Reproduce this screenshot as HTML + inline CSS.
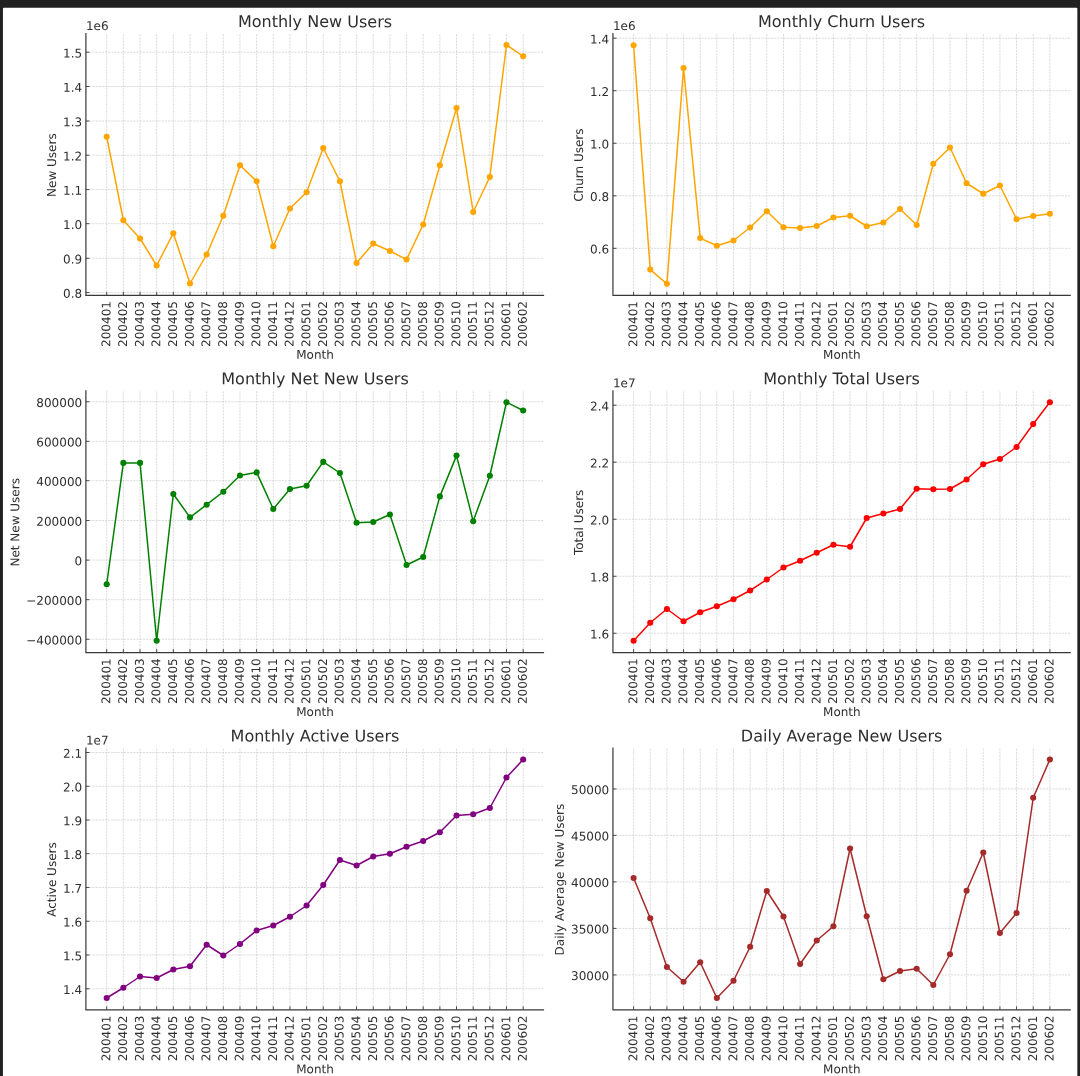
<!DOCTYPE html>
<html lang="en">
<head>
<meta charset="utf-8">
<title>Monthly User Metrics</title>
<style>
html,body{margin:0;padding:0;background:#212121;}
body{width:1080px;height:1076px;overflow:hidden;position:relative;}
svg{position:absolute;left:0;top:0;display:block;}
text{font-family:"DejaVu Sans", "Liberation Sans", sans-serif;fill:#2e2e2e;}
.t{font-size:12.0px;}
.t text{font-size:12.0px;}
.ttl{font-size:16.05px;}
.grid{fill:none;stroke:#c4c4c4;stroke-width:0.6;stroke-dasharray:2.2 0.96;}
.tick{fill:none;stroke:#4a4a4a;stroke-width:1;}
.spine{fill:none;stroke:#383838;stroke-width:1.2;stroke-linecap:butt;stroke-linejoin:miter;}
.ln{fill:none;stroke-width:1.5;stroke-linejoin:round;stroke-linecap:butt;}
</style>
</head>
<body>
<svg role="img" aria-label="Six monthly user metric line charts" width="1080" height="1076" viewBox="0 0 1080 1076">
<rect x="2.95" y="7.7" width="1074.4" height="1080" rx="1" fill="#ffffff"/>
<g id="charts">
<g>
<path class="grid" d="M106.7 295.4V33.1M123.36 295.4V33.1M140.02 295.4V33.1M156.67 295.4V33.1M173.33 295.4V33.1M189.99 295.4V33.1M206.65 295.4V33.1M223.31 295.4V33.1M239.96 295.4V33.1M256.62 295.4V33.1M273.28 295.4V33.1M289.94 295.4V33.1M306.6 295.4V33.1M323.25 295.4V33.1M339.91 295.4V33.1M356.57 295.4V33.1M373.23 295.4V33.1M389.89 295.4V33.1M406.54 295.4V33.1M423.2 295.4V33.1M439.86 295.4V33.1M456.52 295.4V33.1M473.18 295.4V33.1M489.83 295.4V33.1M506.49 295.4V33.1M523.15 295.4V33.1M85.9 292.6H543.8M85.9 258.25H543.8M85.9 223.7H543.8M85.9 189.55H543.8M85.9 155.2H543.8M85.9 121H543.8M85.9 86.5H543.8M85.9 52.2H543.8"/>
<path class="tick" d="M106.7 295.4v-3.5M123.36 295.4v-3.5M140.02 295.4v-3.5M156.67 295.4v-3.5M173.33 295.4v-3.5M189.99 295.4v-3.5M206.65 295.4v-3.5M223.31 295.4v-3.5M239.96 295.4v-3.5M256.62 295.4v-3.5M273.28 295.4v-3.5M289.94 295.4v-3.5M306.6 295.4v-3.5M323.25 295.4v-3.5M339.91 295.4v-3.5M356.57 295.4v-3.5M373.23 295.4v-3.5M389.89 295.4v-3.5M406.54 295.4v-3.5M423.2 295.4v-3.5M439.86 295.4v-3.5M456.52 295.4v-3.5M473.18 295.4v-3.5M489.83 295.4v-3.5M506.49 295.4v-3.5M523.15 295.4v-3.5M85.9 292.6h3.5M85.9 258.25h3.5M85.9 223.7h3.5M85.9 189.55h3.5M85.9 155.2h3.5M85.9 121h3.5M85.9 86.5h3.5M85.9 52.2h3.5"/>
<polyline class="ln" stroke="#ffa500" points="106.7,136.75 123.36,220.25 140.02,238.5 156.67,265.5 173.33,233.25 189.99,283.5 206.65,254.5 223.31,215.75 239.96,165.25 256.62,181.25 273.28,246.25 289.94,208.5 306.6,192.25 323.25,148 339.91,181.25 356.57,263 373.23,243.5 389.89,251 406.54,259.5 423.2,224.5 439.86,165.25 456.52,108 473.18,212 489.83,177 506.49,45 523.15,56.25"/>
<g fill="#ffa500"><circle cx="106.7" cy="136.75" r="3.05"/><circle cx="123.36" cy="220.25" r="3.05"/><circle cx="140.02" cy="238.5" r="3.05"/><circle cx="156.67" cy="265.5" r="3.05"/><circle cx="173.33" cy="233.25" r="3.05"/><circle cx="189.99" cy="283.5" r="3.05"/><circle cx="206.65" cy="254.5" r="3.05"/><circle cx="223.31" cy="215.75" r="3.05"/><circle cx="239.96" cy="165.25" r="3.05"/><circle cx="256.62" cy="181.25" r="3.05"/><circle cx="273.28" cy="246.25" r="3.05"/><circle cx="289.94" cy="208.5" r="3.05"/><circle cx="306.6" cy="192.25" r="3.05"/><circle cx="323.25" cy="148" r="3.05"/><circle cx="339.91" cy="181.25" r="3.05"/><circle cx="356.57" cy="263" r="3.05"/><circle cx="373.23" cy="243.5" r="3.05"/><circle cx="389.89" cy="251" r="3.05"/><circle cx="406.54" cy="259.5" r="3.05"/><circle cx="423.2" cy="224.5" r="3.05"/><circle cx="439.86" cy="165.25" r="3.05"/><circle cx="456.52" cy="108" r="3.05"/><circle cx="473.18" cy="212" r="3.05"/><circle cx="489.83" cy="177" r="3.05"/><circle cx="506.49" cy="45" r="3.05"/><circle cx="523.15" cy="56.25" r="3.05"/></g>
<path class="spine" d="M85.9 33.1V295.4H544.1"/>
<g class="t" text-anchor="end"><text transform="translate(82.15 297.8) rotate(0.05)">0.8</text><text transform="translate(82.15 263.45) rotate(0.05)">0.9</text><text transform="translate(82.15 228.9) rotate(0.05)">1.0</text><text transform="translate(82.15 194.75) rotate(0.05)">1.1</text><text transform="translate(82.15 160.4) rotate(0.05)">1.2</text><text transform="translate(82.15 126.2) rotate(0.05)">1.3</text><text transform="translate(82.15 91.7) rotate(0.05)">1.4</text><text transform="translate(82.15 57.4) rotate(0.05)">1.5</text></g>
<g class="t" text-anchor="end"><text transform="translate(110.4 301.1) rotate(-89.95)">200401</text><text transform="translate(127.06 301.1) rotate(-89.95)">200402</text><text transform="translate(143.72 301.1) rotate(-89.95)">200403</text><text transform="translate(160.37 301.1) rotate(-89.95)">200404</text><text transform="translate(177.03 301.1) rotate(-89.95)">200405</text><text transform="translate(193.69 301.1) rotate(-89.95)">200406</text><text transform="translate(210.35 301.1) rotate(-89.95)">200407</text><text transform="translate(227.01 301.1) rotate(-89.95)">200408</text><text transform="translate(243.66 301.1) rotate(-89.95)">200409</text><text transform="translate(260.32 301.1) rotate(-89.95)">200410</text><text transform="translate(276.98 301.1) rotate(-89.95)">200411</text><text transform="translate(293.64 301.1) rotate(-89.95)">200412</text><text transform="translate(310.3 301.1) rotate(-89.95)">200501</text><text transform="translate(326.95 301.1) rotate(-89.95)">200502</text><text transform="translate(343.61 301.1) rotate(-89.95)">200503</text><text transform="translate(360.27 301.1) rotate(-89.95)">200504</text><text transform="translate(376.93 301.1) rotate(-89.95)">200505</text><text transform="translate(393.59 301.1) rotate(-89.95)">200506</text><text transform="translate(410.24 301.1) rotate(-89.95)">200507</text><text transform="translate(426.9 301.1) rotate(-89.95)">200508</text><text transform="translate(443.56 301.1) rotate(-89.95)">200509</text><text transform="translate(460.22 301.1) rotate(-89.95)">200510</text><text transform="translate(476.88 301.1) rotate(-89.95)">200511</text><text transform="translate(493.53 301.1) rotate(-89.95)">200512</text><text transform="translate(510.19 301.1) rotate(-89.95)">200601</text><text transform="translate(526.85 301.1) rotate(-89.95)">200602</text></g>
<text class="ttl" text-anchor="middle" transform="translate(315 27.1) rotate(0.05)">Monthly New Users</text>
<text class="t" text-anchor="middle" transform="translate(315 358.75) rotate(0.05)">Month</text>
<text class="t" text-anchor="middle" transform="translate(55.9 165.15) rotate(-89.95)">New Users</text>
<text class="t" transform="translate(85.9 30) rotate(0.05)">1e6</text>
</g>
<g>
<path class="grid" d="M633.6 295.4V33.1M650.25 295.4V33.1M666.9 295.4V33.1M683.55 295.4V33.1M700.2 295.4V33.1M716.86 295.4V33.1M733.51 295.4V33.1M750.16 295.4V33.1M766.81 295.4V33.1M783.46 295.4V33.1M800.11 295.4V33.1M816.76 295.4V33.1M833.41 295.4V33.1M850.06 295.4V33.1M866.71 295.4V33.1M883.37 295.4V33.1M900.02 295.4V33.1M916.67 295.4V33.1M933.32 295.4V33.1M949.97 295.4V33.1M966.62 295.4V33.1M983.27 295.4V33.1M999.92 295.4V33.1M1016.57 295.4V33.1M1033.22 295.4V33.1M1049.88 295.4V33.1M612.95 248.3H1070.5M612.95 195.8H1070.5M612.95 143.25H1070.5M612.95 90.7H1070.5M612.95 38.2H1070.5"/>
<path class="tick" d="M633.6 295.4v-3.5M650.25 295.4v-3.5M666.9 295.4v-3.5M683.55 295.4v-3.5M700.2 295.4v-3.5M716.86 295.4v-3.5M733.51 295.4v-3.5M750.16 295.4v-3.5M766.81 295.4v-3.5M783.46 295.4v-3.5M800.11 295.4v-3.5M816.76 295.4v-3.5M833.41 295.4v-3.5M850.06 295.4v-3.5M866.71 295.4v-3.5M883.37 295.4v-3.5M900.02 295.4v-3.5M916.67 295.4v-3.5M933.32 295.4v-3.5M949.97 295.4v-3.5M966.62 295.4v-3.5M983.27 295.4v-3.5M999.92 295.4v-3.5M1016.57 295.4v-3.5M1033.22 295.4v-3.5M1049.88 295.4v-3.5M612.95 248.3h3.5M612.95 195.8h3.5M612.95 143.25h3.5M612.95 90.7h3.5M612.95 38.2h3.5"/>
<polyline class="ln" stroke="#ffa500" points="633.6,45.2 650.25,269.6 666.9,283.85 683.55,67.95 700.2,238.1 716.86,245.75 733.51,240.5 750.16,227.5 766.81,211.25 783.46,227.25 800.11,228 816.76,226 833.41,217.5 850.06,215.75 866.71,226.25 883.37,222.5 900.02,209 916.67,225 933.32,163.75 949.97,147.5 966.62,183.25 983.27,193.75 999.92,185.5 1016.57,219.25 1033.22,216 1049.88,213.75"/>
<g fill="#ffa500"><circle cx="633.6" cy="45.2" r="3.05"/><circle cx="650.25" cy="269.6" r="3.05"/><circle cx="666.9" cy="283.85" r="3.05"/><circle cx="683.55" cy="67.95" r="3.05"/><circle cx="700.2" cy="238.1" r="3.05"/><circle cx="716.86" cy="245.75" r="3.05"/><circle cx="733.51" cy="240.5" r="3.05"/><circle cx="750.16" cy="227.5" r="3.05"/><circle cx="766.81" cy="211.25" r="3.05"/><circle cx="783.46" cy="227.25" r="3.05"/><circle cx="800.11" cy="228" r="3.05"/><circle cx="816.76" cy="226" r="3.05"/><circle cx="833.41" cy="217.5" r="3.05"/><circle cx="850.06" cy="215.75" r="3.05"/><circle cx="866.71" cy="226.25" r="3.05"/><circle cx="883.37" cy="222.5" r="3.05"/><circle cx="900.02" cy="209" r="3.05"/><circle cx="916.67" cy="225" r="3.05"/><circle cx="933.32" cy="163.75" r="3.05"/><circle cx="949.97" cy="147.5" r="3.05"/><circle cx="966.62" cy="183.25" r="3.05"/><circle cx="983.27" cy="193.75" r="3.05"/><circle cx="999.92" cy="185.5" r="3.05"/><circle cx="1016.57" cy="219.25" r="3.05"/><circle cx="1033.22" cy="216" r="3.05"/><circle cx="1049.88" cy="213.75" r="3.05"/></g>
<path class="spine" d="M612.95 33.1V295.4H1070.8"/>
<g class="t" text-anchor="end"><text transform="translate(609.2 253.5) rotate(0.05)">0.6</text><text transform="translate(609.2 201) rotate(0.05)">0.8</text><text transform="translate(609.2 148.45) rotate(0.05)">1.0</text><text transform="translate(609.2 95.9) rotate(0.05)">1.2</text><text transform="translate(609.2 43.4) rotate(0.05)">1.4</text></g>
<g class="t" text-anchor="end"><text transform="translate(637.3 301.1) rotate(-89.95)">200401</text><text transform="translate(653.95 301.1) rotate(-89.95)">200402</text><text transform="translate(670.6 301.1) rotate(-89.95)">200403</text><text transform="translate(687.25 301.1) rotate(-89.95)">200404</text><text transform="translate(703.9 301.1) rotate(-89.95)">200405</text><text transform="translate(720.56 301.1) rotate(-89.95)">200406</text><text transform="translate(737.21 301.1) rotate(-89.95)">200407</text><text transform="translate(753.86 301.1) rotate(-89.95)">200408</text><text transform="translate(770.51 301.1) rotate(-89.95)">200409</text><text transform="translate(787.16 301.1) rotate(-89.95)">200410</text><text transform="translate(803.81 301.1) rotate(-89.95)">200411</text><text transform="translate(820.46 301.1) rotate(-89.95)">200412</text><text transform="translate(837.11 301.1) rotate(-89.95)">200501</text><text transform="translate(853.76 301.1) rotate(-89.95)">200502</text><text transform="translate(870.41 301.1) rotate(-89.95)">200503</text><text transform="translate(887.07 301.1) rotate(-89.95)">200504</text><text transform="translate(903.72 301.1) rotate(-89.95)">200505</text><text transform="translate(920.37 301.1) rotate(-89.95)">200506</text><text transform="translate(937.02 301.1) rotate(-89.95)">200507</text><text transform="translate(953.67 301.1) rotate(-89.95)">200508</text><text transform="translate(970.32 301.1) rotate(-89.95)">200509</text><text transform="translate(986.97 301.1) rotate(-89.95)">200510</text><text transform="translate(1003.62 301.1) rotate(-89.95)">200511</text><text transform="translate(1020.27 301.1) rotate(-89.95)">200512</text><text transform="translate(1036.92 301.1) rotate(-89.95)">200601</text><text transform="translate(1053.58 301.1) rotate(-89.95)">200602</text></g>
<text class="ttl" text-anchor="middle" transform="translate(841.58 27.1) rotate(0.05)">Monthly Churn Users</text>
<text class="t" text-anchor="middle" transform="translate(841.88 358.75) rotate(0.05)">Month</text>
<text class="t" text-anchor="middle" transform="translate(582.9 165.15) rotate(-89.95)">Churn Users</text>
<text class="t" transform="translate(612.95 30) rotate(0.05)">1e6</text>
</g>
<g>
<path class="grid" d="M106.7 652.6V390.3M123.36 652.6V390.3M140.02 652.6V390.3M156.67 652.6V390.3M173.33 652.6V390.3M189.99 652.6V390.3M206.65 652.6V390.3M223.31 652.6V390.3M239.96 652.6V390.3M256.62 652.6V390.3M273.28 652.6V390.3M289.94 652.6V390.3M306.6 652.6V390.3M323.25 652.6V390.3M339.91 652.6V390.3M356.57 652.6V390.3M373.23 652.6V390.3M389.89 652.6V390.3M406.54 652.6V390.3M423.2 652.6V390.3M439.86 652.6V390.3M456.52 652.6V390.3M473.18 652.6V390.3M489.83 652.6V390.3M506.49 652.6V390.3M523.15 652.6V390.3M85.9 639.25H543.8M85.9 599.7H543.8M85.9 560.1H543.8M85.9 520.5H543.8M85.9 480.7H543.8M85.9 441.35H543.8M85.9 401.75H543.8"/>
<path class="tick" d="M106.7 652.6v-3.5M123.36 652.6v-3.5M140.02 652.6v-3.5M156.67 652.6v-3.5M173.33 652.6v-3.5M189.99 652.6v-3.5M206.65 652.6v-3.5M223.31 652.6v-3.5M239.96 652.6v-3.5M256.62 652.6v-3.5M273.28 652.6v-3.5M289.94 652.6v-3.5M306.6 652.6v-3.5M323.25 652.6v-3.5M339.91 652.6v-3.5M356.57 652.6v-3.5M373.23 652.6v-3.5M389.89 652.6v-3.5M406.54 652.6v-3.5M423.2 652.6v-3.5M439.86 652.6v-3.5M456.52 652.6v-3.5M473.18 652.6v-3.5M489.83 652.6v-3.5M506.49 652.6v-3.5M523.15 652.6v-3.5M85.9 639.25h3.5M85.9 599.7h3.5M85.9 560.1h3.5M85.9 520.5h3.5M85.9 480.7h3.5M85.9 441.35h3.5M85.9 401.75h3.5"/>
<polyline class="ln" stroke="#008000" points="106.7,584.25 123.36,462.9 140.02,462.9 156.67,640.75 173.33,494 189.99,517.4 206.65,504.7 223.31,491.75 239.96,475.5 256.62,472.4 273.28,509 289.94,489.1 306.6,485.75 323.25,461.9 339.91,473 356.57,522.75 373.23,522 389.89,514.5 406.54,565 423.2,557 439.86,496.4 456.52,455.6 473.18,521.25 489.83,475.75 506.49,402.25 523.15,410.5"/>
<g fill="#008000"><circle cx="106.7" cy="584.25" r="3.05"/><circle cx="123.36" cy="462.9" r="3.05"/><circle cx="140.02" cy="462.9" r="3.05"/><circle cx="156.67" cy="640.75" r="3.05"/><circle cx="173.33" cy="494" r="3.05"/><circle cx="189.99" cy="517.4" r="3.05"/><circle cx="206.65" cy="504.7" r="3.05"/><circle cx="223.31" cy="491.75" r="3.05"/><circle cx="239.96" cy="475.5" r="3.05"/><circle cx="256.62" cy="472.4" r="3.05"/><circle cx="273.28" cy="509" r="3.05"/><circle cx="289.94" cy="489.1" r="3.05"/><circle cx="306.6" cy="485.75" r="3.05"/><circle cx="323.25" cy="461.9" r="3.05"/><circle cx="339.91" cy="473" r="3.05"/><circle cx="356.57" cy="522.75" r="3.05"/><circle cx="373.23" cy="522" r="3.05"/><circle cx="389.89" cy="514.5" r="3.05"/><circle cx="406.54" cy="565" r="3.05"/><circle cx="423.2" cy="557" r="3.05"/><circle cx="439.86" cy="496.4" r="3.05"/><circle cx="456.52" cy="455.6" r="3.05"/><circle cx="473.18" cy="521.25" r="3.05"/><circle cx="489.83" cy="475.75" r="3.05"/><circle cx="506.49" cy="402.25" r="3.05"/><circle cx="523.15" cy="410.5" r="3.05"/></g>
<path class="spine" d="M85.9 390.3V652.6H544.1"/>
<g class="t" text-anchor="end"><text transform="translate(82.15 644.45) rotate(0.05)">−400000</text><text transform="translate(82.15 604.9) rotate(0.05)">−200000</text><text transform="translate(82.15 565.3) rotate(0.05)">0</text><text transform="translate(82.15 525.7) rotate(0.05)">200000</text><text transform="translate(82.15 485.9) rotate(0.05)">400000</text><text transform="translate(82.15 446.55) rotate(0.05)">600000</text><text transform="translate(82.15 406.95) rotate(0.05)">800000</text></g>
<g class="t" text-anchor="end"><text transform="translate(110.4 658.3) rotate(-89.95)">200401</text><text transform="translate(127.06 658.3) rotate(-89.95)">200402</text><text transform="translate(143.72 658.3) rotate(-89.95)">200403</text><text transform="translate(160.37 658.3) rotate(-89.95)">200404</text><text transform="translate(177.03 658.3) rotate(-89.95)">200405</text><text transform="translate(193.69 658.3) rotate(-89.95)">200406</text><text transform="translate(210.35 658.3) rotate(-89.95)">200407</text><text transform="translate(227.01 658.3) rotate(-89.95)">200408</text><text transform="translate(243.66 658.3) rotate(-89.95)">200409</text><text transform="translate(260.32 658.3) rotate(-89.95)">200410</text><text transform="translate(276.98 658.3) rotate(-89.95)">200411</text><text transform="translate(293.64 658.3) rotate(-89.95)">200412</text><text transform="translate(310.3 658.3) rotate(-89.95)">200501</text><text transform="translate(326.95 658.3) rotate(-89.95)">200502</text><text transform="translate(343.61 658.3) rotate(-89.95)">200503</text><text transform="translate(360.27 658.3) rotate(-89.95)">200504</text><text transform="translate(376.93 658.3) rotate(-89.95)">200505</text><text transform="translate(393.59 658.3) rotate(-89.95)">200506</text><text transform="translate(410.24 658.3) rotate(-89.95)">200507</text><text transform="translate(426.9 658.3) rotate(-89.95)">200508</text><text transform="translate(443.56 658.3) rotate(-89.95)">200509</text><text transform="translate(460.22 658.3) rotate(-89.95)">200510</text><text transform="translate(476.88 658.3) rotate(-89.95)">200511</text><text transform="translate(493.53 658.3) rotate(-89.95)">200512</text><text transform="translate(510.19 658.3) rotate(-89.95)">200601</text><text transform="translate(526.85 658.3) rotate(-89.95)">200602</text></g>
<text class="ttl" text-anchor="middle" transform="translate(315 384.3) rotate(0.05)">Monthly Net New Users</text>
<text class="t" text-anchor="middle" transform="translate(315 715.95) rotate(0.05)">Month</text>
<text class="t" text-anchor="middle" transform="translate(19.2 522.35) rotate(-89.95)">Net New Users</text>
</g>
<g>
<path class="grid" d="M633.6 652.6V390.3M650.25 652.6V390.3M666.9 652.6V390.3M683.55 652.6V390.3M700.2 652.6V390.3M716.86 652.6V390.3M733.51 652.6V390.3M750.16 652.6V390.3M766.81 652.6V390.3M783.46 652.6V390.3M800.11 652.6V390.3M816.76 652.6V390.3M833.41 652.6V390.3M850.06 652.6V390.3M866.71 652.6V390.3M883.37 652.6V390.3M900.02 652.6V390.3M916.67 652.6V390.3M933.32 652.6V390.3M949.97 652.6V390.3M966.62 652.6V390.3M983.27 652.6V390.3M999.92 652.6V390.3M1016.57 652.6V390.3M1033.22 652.6V390.3M1049.88 652.6V390.3M612.95 633.25H1070.5M612.95 576.25H1070.5M612.95 519.25H1070.5M612.95 462.2H1070.5M612.95 405.2H1070.5"/>
<path class="tick" d="M633.6 652.6v-3.5M650.25 652.6v-3.5M666.9 652.6v-3.5M683.55 652.6v-3.5M700.2 652.6v-3.5M716.86 652.6v-3.5M733.51 652.6v-3.5M750.16 652.6v-3.5M766.81 652.6v-3.5M783.46 652.6v-3.5M800.11 652.6v-3.5M816.76 652.6v-3.5M833.41 652.6v-3.5M850.06 652.6v-3.5M866.71 652.6v-3.5M883.37 652.6v-3.5M900.02 652.6v-3.5M916.67 652.6v-3.5M933.32 652.6v-3.5M949.97 652.6v-3.5M966.62 652.6v-3.5M983.27 652.6v-3.5M999.92 652.6v-3.5M1016.57 652.6v-3.5M1033.22 652.6v-3.5M1049.88 652.6v-3.5M612.95 633.25h3.5M612.95 576.25h3.5M612.95 519.25h3.5M612.95 462.2h3.5M612.95 405.2h3.5"/>
<polyline class="ln" stroke="#ff0000" points="633.6,640.75 650.25,622.75 666.9,609 683.55,621.25 700.2,612.25 716.86,606.25 733.51,599.25 750.16,590.5 766.81,579.5 783.46,567.5 800.11,560.75 816.76,552.75 833.41,544.75 850.06,546.75 866.71,518 883.37,513.5 900.02,509 916.67,488.75 933.32,489.25 949.97,489 966.62,479.5 983.27,464.25 999.92,459 1016.57,447 1033.22,424 1049.88,402.25"/>
<g fill="#ff0000"><circle cx="633.6" cy="640.75" r="3.05"/><circle cx="650.25" cy="622.75" r="3.05"/><circle cx="666.9" cy="609" r="3.05"/><circle cx="683.55" cy="621.25" r="3.05"/><circle cx="700.2" cy="612.25" r="3.05"/><circle cx="716.86" cy="606.25" r="3.05"/><circle cx="733.51" cy="599.25" r="3.05"/><circle cx="750.16" cy="590.5" r="3.05"/><circle cx="766.81" cy="579.5" r="3.05"/><circle cx="783.46" cy="567.5" r="3.05"/><circle cx="800.11" cy="560.75" r="3.05"/><circle cx="816.76" cy="552.75" r="3.05"/><circle cx="833.41" cy="544.75" r="3.05"/><circle cx="850.06" cy="546.75" r="3.05"/><circle cx="866.71" cy="518" r="3.05"/><circle cx="883.37" cy="513.5" r="3.05"/><circle cx="900.02" cy="509" r="3.05"/><circle cx="916.67" cy="488.75" r="3.05"/><circle cx="933.32" cy="489.25" r="3.05"/><circle cx="949.97" cy="489" r="3.05"/><circle cx="966.62" cy="479.5" r="3.05"/><circle cx="983.27" cy="464.25" r="3.05"/><circle cx="999.92" cy="459" r="3.05"/><circle cx="1016.57" cy="447" r="3.05"/><circle cx="1033.22" cy="424" r="3.05"/><circle cx="1049.88" cy="402.25" r="3.05"/></g>
<path class="spine" d="M612.95 390.3V652.6H1070.8"/>
<g class="t" text-anchor="end"><text transform="translate(609.2 638.45) rotate(0.05)">1.6</text><text transform="translate(609.2 581.45) rotate(0.05)">1.8</text><text transform="translate(609.2 524.45) rotate(0.05)">2.0</text><text transform="translate(609.2 467.4) rotate(0.05)">2.2</text><text transform="translate(609.2 410.4) rotate(0.05)">2.4</text></g>
<g class="t" text-anchor="end"><text transform="translate(637.3 658.3) rotate(-89.95)">200401</text><text transform="translate(653.95 658.3) rotate(-89.95)">200402</text><text transform="translate(670.6 658.3) rotate(-89.95)">200403</text><text transform="translate(687.25 658.3) rotate(-89.95)">200404</text><text transform="translate(703.9 658.3) rotate(-89.95)">200405</text><text transform="translate(720.56 658.3) rotate(-89.95)">200406</text><text transform="translate(737.21 658.3) rotate(-89.95)">200407</text><text transform="translate(753.86 658.3) rotate(-89.95)">200408</text><text transform="translate(770.51 658.3) rotate(-89.95)">200409</text><text transform="translate(787.16 658.3) rotate(-89.95)">200410</text><text transform="translate(803.81 658.3) rotate(-89.95)">200411</text><text transform="translate(820.46 658.3) rotate(-89.95)">200412</text><text transform="translate(837.11 658.3) rotate(-89.95)">200501</text><text transform="translate(853.76 658.3) rotate(-89.95)">200502</text><text transform="translate(870.41 658.3) rotate(-89.95)">200503</text><text transform="translate(887.07 658.3) rotate(-89.95)">200504</text><text transform="translate(903.72 658.3) rotate(-89.95)">200505</text><text transform="translate(920.37 658.3) rotate(-89.95)">200506</text><text transform="translate(937.02 658.3) rotate(-89.95)">200507</text><text transform="translate(953.67 658.3) rotate(-89.95)">200508</text><text transform="translate(970.32 658.3) rotate(-89.95)">200509</text><text transform="translate(986.97 658.3) rotate(-89.95)">200510</text><text transform="translate(1003.62 658.3) rotate(-89.95)">200511</text><text transform="translate(1020.27 658.3) rotate(-89.95)">200512</text><text transform="translate(1036.92 658.3) rotate(-89.95)">200601</text><text transform="translate(1053.58 658.3) rotate(-89.95)">200602</text></g>
<text class="ttl" text-anchor="middle" transform="translate(841.58 384.3) rotate(0.05)">Monthly Total Users</text>
<text class="t" text-anchor="middle" transform="translate(841.88 715.95) rotate(0.05)">Month</text>
<text class="t" text-anchor="middle" transform="translate(582.9 522.35) rotate(-89.95)">Total Users</text>
<text class="t" transform="translate(612.95 387.2) rotate(0.05)">1e7</text>
</g>
<g>
<path class="grid" d="M106.7 1009.8V747.5M123.36 1009.8V747.5M140.02 1009.8V747.5M156.67 1009.8V747.5M173.33 1009.8V747.5M189.99 1009.8V747.5M206.65 1009.8V747.5M223.31 1009.8V747.5M239.96 1009.8V747.5M256.62 1009.8V747.5M273.28 1009.8V747.5M289.94 1009.8V747.5M306.6 1009.8V747.5M323.25 1009.8V747.5M339.91 1009.8V747.5M356.57 1009.8V747.5M373.23 1009.8V747.5M389.89 1009.8V747.5M406.54 1009.8V747.5M423.2 1009.8V747.5M439.86 1009.8V747.5M456.52 1009.8V747.5M473.18 1009.8V747.5M489.83 1009.8V747.5M506.49 1009.8V747.5M523.15 1009.8V747.5M85.9 988.75H543.8M85.9 955H543.8M85.9 921.25H543.8M85.9 887.45H543.8M85.9 853.7H543.8M85.9 820H543.8M85.9 786.25H543.8M85.9 752.5H543.8"/>
<path class="tick" d="M106.7 1009.8v-3.5M123.36 1009.8v-3.5M140.02 1009.8v-3.5M156.67 1009.8v-3.5M173.33 1009.8v-3.5M189.99 1009.8v-3.5M206.65 1009.8v-3.5M223.31 1009.8v-3.5M239.96 1009.8v-3.5M256.62 1009.8v-3.5M273.28 1009.8v-3.5M289.94 1009.8v-3.5M306.6 1009.8v-3.5M323.25 1009.8v-3.5M339.91 1009.8v-3.5M356.57 1009.8v-3.5M373.23 1009.8v-3.5M389.89 1009.8v-3.5M406.54 1009.8v-3.5M423.2 1009.8v-3.5M439.86 1009.8v-3.5M456.52 1009.8v-3.5M473.18 1009.8v-3.5M489.83 1009.8v-3.5M506.49 1009.8v-3.5M523.15 1009.8v-3.5M85.9 988.75h3.5M85.9 955h3.5M85.9 921.25h3.5M85.9 887.45h3.5M85.9 853.7h3.5M85.9 820h3.5M85.9 786.25h3.5M85.9 752.5h3.5"/>
<polyline class="ln" stroke="#800080" points="106.7,998 123.36,987.75 140.02,976.5 156.67,978 173.33,969.5 189.99,966.25 206.65,944.75 223.31,955.5 239.96,944 256.62,930.5 273.28,925.5 289.94,916.75 306.6,905.5 323.25,885 339.91,860 356.57,865.5 373.23,856.5 389.89,853.75 406.54,846.75 423.2,841 439.86,832.25 456.52,815.5 473.18,814.25 489.83,808 506.49,777.5 523.15,759.5"/>
<g fill="#800080"><circle cx="106.7" cy="998" r="3.05"/><circle cx="123.36" cy="987.75" r="3.05"/><circle cx="140.02" cy="976.5" r="3.05"/><circle cx="156.67" cy="978" r="3.05"/><circle cx="173.33" cy="969.5" r="3.05"/><circle cx="189.99" cy="966.25" r="3.05"/><circle cx="206.65" cy="944.75" r="3.05"/><circle cx="223.31" cy="955.5" r="3.05"/><circle cx="239.96" cy="944" r="3.05"/><circle cx="256.62" cy="930.5" r="3.05"/><circle cx="273.28" cy="925.5" r="3.05"/><circle cx="289.94" cy="916.75" r="3.05"/><circle cx="306.6" cy="905.5" r="3.05"/><circle cx="323.25" cy="885" r="3.05"/><circle cx="339.91" cy="860" r="3.05"/><circle cx="356.57" cy="865.5" r="3.05"/><circle cx="373.23" cy="856.5" r="3.05"/><circle cx="389.89" cy="853.75" r="3.05"/><circle cx="406.54" cy="846.75" r="3.05"/><circle cx="423.2" cy="841" r="3.05"/><circle cx="439.86" cy="832.25" r="3.05"/><circle cx="456.52" cy="815.5" r="3.05"/><circle cx="473.18" cy="814.25" r="3.05"/><circle cx="489.83" cy="808" r="3.05"/><circle cx="506.49" cy="777.5" r="3.05"/><circle cx="523.15" cy="759.5" r="3.05"/></g>
<path class="spine" d="M85.9 747.5V1009.8H544.1"/>
<g class="t" text-anchor="end"><text transform="translate(82.15 993.95) rotate(0.05)">1.4</text><text transform="translate(82.15 960.2) rotate(0.05)">1.5</text><text transform="translate(82.15 926.45) rotate(0.05)">1.6</text><text transform="translate(82.15 892.65) rotate(0.05)">1.7</text><text transform="translate(82.15 858.9) rotate(0.05)">1.8</text><text transform="translate(82.15 825.2) rotate(0.05)">1.9</text><text transform="translate(82.15 791.45) rotate(0.05)">2.0</text><text transform="translate(82.15 757.7) rotate(0.05)">2.1</text></g>
<g class="t" text-anchor="end"><text transform="translate(110.4 1015.5) rotate(-89.95)">200401</text><text transform="translate(127.06 1015.5) rotate(-89.95)">200402</text><text transform="translate(143.72 1015.5) rotate(-89.95)">200403</text><text transform="translate(160.37 1015.5) rotate(-89.95)">200404</text><text transform="translate(177.03 1015.5) rotate(-89.95)">200405</text><text transform="translate(193.69 1015.5) rotate(-89.95)">200406</text><text transform="translate(210.35 1015.5) rotate(-89.95)">200407</text><text transform="translate(227.01 1015.5) rotate(-89.95)">200408</text><text transform="translate(243.66 1015.5) rotate(-89.95)">200409</text><text transform="translate(260.32 1015.5) rotate(-89.95)">200410</text><text transform="translate(276.98 1015.5) rotate(-89.95)">200411</text><text transform="translate(293.64 1015.5) rotate(-89.95)">200412</text><text transform="translate(310.3 1015.5) rotate(-89.95)">200501</text><text transform="translate(326.95 1015.5) rotate(-89.95)">200502</text><text transform="translate(343.61 1015.5) rotate(-89.95)">200503</text><text transform="translate(360.27 1015.5) rotate(-89.95)">200504</text><text transform="translate(376.93 1015.5) rotate(-89.95)">200505</text><text transform="translate(393.59 1015.5) rotate(-89.95)">200506</text><text transform="translate(410.24 1015.5) rotate(-89.95)">200507</text><text transform="translate(426.9 1015.5) rotate(-89.95)">200508</text><text transform="translate(443.56 1015.5) rotate(-89.95)">200509</text><text transform="translate(460.22 1015.5) rotate(-89.95)">200510</text><text transform="translate(476.88 1015.5) rotate(-89.95)">200511</text><text transform="translate(493.53 1015.5) rotate(-89.95)">200512</text><text transform="translate(510.19 1015.5) rotate(-89.95)">200601</text><text transform="translate(526.85 1015.5) rotate(-89.95)">200602</text></g>
<text class="ttl" text-anchor="middle" transform="translate(315 741.5) rotate(0.05)">Monthly Active Users</text>
<text class="t" text-anchor="middle" transform="translate(315 1073.15) rotate(0.05)">Month</text>
<text class="t" text-anchor="middle" transform="translate(55.9 879.55) rotate(-89.95)">Active Users</text>
<text class="t" transform="translate(85.9 744.4) rotate(0.05)">1e7</text>
</g>
<g>
<path class="grid" d="M633.6 1009.8V747.5M650.25 1009.8V747.5M666.9 1009.8V747.5M683.55 1009.8V747.5M700.2 1009.8V747.5M716.86 1009.8V747.5M733.51 1009.8V747.5M750.16 1009.8V747.5M766.81 1009.8V747.5M783.46 1009.8V747.5M800.11 1009.8V747.5M816.76 1009.8V747.5M833.41 1009.8V747.5M850.06 1009.8V747.5M866.71 1009.8V747.5M883.37 1009.8V747.5M900.02 1009.8V747.5M916.67 1009.8V747.5M933.32 1009.8V747.5M949.97 1009.8V747.5M966.62 1009.8V747.5M983.27 1009.8V747.5M999.92 1009.8V747.5M1016.57 1009.8V747.5M1033.22 1009.8V747.5M1049.88 1009.8V747.5M612.95 974.95H1070.5M612.95 928.4H1070.5M612.95 881.9H1070.5M612.95 835.4H1070.5M612.95 788.95H1070.5"/>
<path class="tick" d="M633.6 1009.8v-3.5M650.25 1009.8v-3.5M666.9 1009.8v-3.5M683.55 1009.8v-3.5M700.2 1009.8v-3.5M716.86 1009.8v-3.5M733.51 1009.8v-3.5M750.16 1009.8v-3.5M766.81 1009.8v-3.5M783.46 1009.8v-3.5M800.11 1009.8v-3.5M816.76 1009.8v-3.5M833.41 1009.8v-3.5M850.06 1009.8v-3.5M866.71 1009.8v-3.5M883.37 1009.8v-3.5M900.02 1009.8v-3.5M916.67 1009.8v-3.5M933.32 1009.8v-3.5M949.97 1009.8v-3.5M966.62 1009.8v-3.5M983.27 1009.8v-3.5M999.92 1009.8v-3.5M1016.57 1009.8v-3.5M1033.22 1009.8v-3.5M1049.88 1009.8v-3.5M612.95 974.95h3.5M612.95 928.4h3.5M612.95 881.9h3.5M612.95 835.4h3.5M612.95 788.95h3.5"/>
<polyline class="ln" stroke="#a52a2a" points="633.6,878 650.25,918.25 666.9,967 683.55,981.75 700.2,962.25 716.86,998 733.51,980.75 750.16,946.75 766.81,891 783.46,916.5 800.11,964 816.76,940.5 833.41,926.25 850.06,848.5 866.71,916.25 883.37,979.25 900.02,971 916.67,968.75 933.32,985 949.97,954.25 966.62,890.75 983.27,852.5 999.92,933 1016.57,913 1033.22,797.75 1049.88,759.5"/>
<g fill="#a52a2a"><circle cx="633.6" cy="878" r="3.05"/><circle cx="650.25" cy="918.25" r="3.05"/><circle cx="666.9" cy="967" r="3.05"/><circle cx="683.55" cy="981.75" r="3.05"/><circle cx="700.2" cy="962.25" r="3.05"/><circle cx="716.86" cy="998" r="3.05"/><circle cx="733.51" cy="980.75" r="3.05"/><circle cx="750.16" cy="946.75" r="3.05"/><circle cx="766.81" cy="891" r="3.05"/><circle cx="783.46" cy="916.5" r="3.05"/><circle cx="800.11" cy="964" r="3.05"/><circle cx="816.76" cy="940.5" r="3.05"/><circle cx="833.41" cy="926.25" r="3.05"/><circle cx="850.06" cy="848.5" r="3.05"/><circle cx="866.71" cy="916.25" r="3.05"/><circle cx="883.37" cy="979.25" r="3.05"/><circle cx="900.02" cy="971" r="3.05"/><circle cx="916.67" cy="968.75" r="3.05"/><circle cx="933.32" cy="985" r="3.05"/><circle cx="949.97" cy="954.25" r="3.05"/><circle cx="966.62" cy="890.75" r="3.05"/><circle cx="983.27" cy="852.5" r="3.05"/><circle cx="999.92" cy="933" r="3.05"/><circle cx="1016.57" cy="913" r="3.05"/><circle cx="1033.22" cy="797.75" r="3.05"/><circle cx="1049.88" cy="759.5" r="3.05"/></g>
<path class="spine" d="M612.95 747.5V1009.8H1070.8"/>
<g class="t" text-anchor="end"><text transform="translate(609.2 980.15) rotate(0.05)">30000</text><text transform="translate(609.2 933.6) rotate(0.05)">35000</text><text transform="translate(609.2 887.1) rotate(0.05)">40000</text><text transform="translate(609.2 840.6) rotate(0.05)">45000</text><text transform="translate(609.2 794.15) rotate(0.05)">50000</text></g>
<g class="t" text-anchor="end"><text transform="translate(637.3 1015.5) rotate(-89.95)">200401</text><text transform="translate(653.95 1015.5) rotate(-89.95)">200402</text><text transform="translate(670.6 1015.5) rotate(-89.95)">200403</text><text transform="translate(687.25 1015.5) rotate(-89.95)">200404</text><text transform="translate(703.9 1015.5) rotate(-89.95)">200405</text><text transform="translate(720.56 1015.5) rotate(-89.95)">200406</text><text transform="translate(737.21 1015.5) rotate(-89.95)">200407</text><text transform="translate(753.86 1015.5) rotate(-89.95)">200408</text><text transform="translate(770.51 1015.5) rotate(-89.95)">200409</text><text transform="translate(787.16 1015.5) rotate(-89.95)">200410</text><text transform="translate(803.81 1015.5) rotate(-89.95)">200411</text><text transform="translate(820.46 1015.5) rotate(-89.95)">200412</text><text transform="translate(837.11 1015.5) rotate(-89.95)">200501</text><text transform="translate(853.76 1015.5) rotate(-89.95)">200502</text><text transform="translate(870.41 1015.5) rotate(-89.95)">200503</text><text transform="translate(887.07 1015.5) rotate(-89.95)">200504</text><text transform="translate(903.72 1015.5) rotate(-89.95)">200505</text><text transform="translate(920.37 1015.5) rotate(-89.95)">200506</text><text transform="translate(937.02 1015.5) rotate(-89.95)">200507</text><text transform="translate(953.67 1015.5) rotate(-89.95)">200508</text><text transform="translate(970.32 1015.5) rotate(-89.95)">200509</text><text transform="translate(986.97 1015.5) rotate(-89.95)">200510</text><text transform="translate(1003.62 1015.5) rotate(-89.95)">200511</text><text transform="translate(1020.27 1015.5) rotate(-89.95)">200512</text><text transform="translate(1036.92 1015.5) rotate(-89.95)">200601</text><text transform="translate(1053.58 1015.5) rotate(-89.95)">200602</text></g>
<text class="ttl" text-anchor="middle" transform="translate(841.58 741.5) rotate(0.05)">Daily Average New Users</text>
<text class="t" text-anchor="middle" transform="translate(841.88 1073.15) rotate(0.05)">Month</text>
<text class="t" text-anchor="middle" letter-spacing="0.04" transform="translate(563.8 879.55) rotate(-89.95)">Daily Average New Users</text>
</g>
</g>
</svg>
</body>
</html>
